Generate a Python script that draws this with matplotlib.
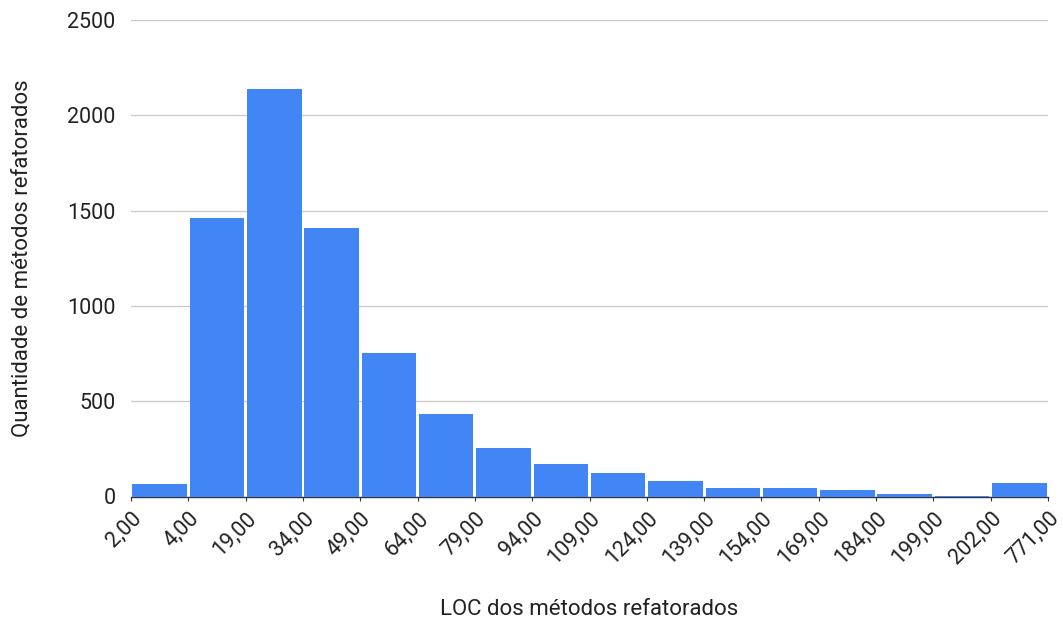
import matplotlib.pyplot as plt
import numpy as np

# bin edges (as shown on the x axis) and counts per bin
bin_edges = ["2,00", "4,00", "19,00", "34,00", "49,00", "64,00", "79,00", "94,00",
             "109,00", "124,00", "139,00", "154,00", "169,00", "184,00", "199,00",
             "202,00", "771,00"]
counts = [63, 1460, 2138, 1408, 751, 431, 257, 168, 122, 82, 42, 42, 33, 12, 4, 72]
y_ticks = [0, 500, 1000, 1500, 2000, 2500]

plt.rcParams['font.family'] = ['Roboto', 'DejaVu Sans']

fig = plt.figure(figsize=(10.63, 6.23), dpi=100)
ax = fig.add_axes([131 / 1063, 1 - 496.5 / 623, 917 / 1063, 476.5 / 623])

pos = np.arange(len(counts)) + 0.5
ax.bar(pos, counts, width=0.95, color="#4285F4", linewidth=0, zorder=3)

ax.set_xlim(0, len(counts))
ax.set_ylim(0, 2500)
ax.set_yticks(y_ticks)
ax.set_yticklabels([str(v) for v in y_ticks], fontsize=15.5, color="#222222")
ax.yaxis.grid(True, color="#cccccc", linewidth=1, zorder=0)
ax.tick_params(axis="y", length=0, pad=11)

ax.set_xticks(np.arange(len(bin_edges)))
ax.set_xticklabels(bin_edges, rotation=45, ha="right", va="top",
                   rotation_mode="anchor", fontsize=15.5, color="#222222")
ax.tick_params(axis="x", length=3, color="#333333", pad=5)

for s in ["top", "right", "left"]:
    ax.spines[s].set_visible(False)
ax.spines["bottom"].set_color("#333333")
ax.spines["bottom"].set_linewidth(1)

ax.set_xlabel("LOC dos métodos refatorados", fontsize=16, color="#222222", labelpad=22)
ax.set_ylabel("Quantidade de métodos refatorados", fontsize=16, color="#222222", labelpad=25)

fig.savefig("out.png", dpi=100, facecolor="white")
